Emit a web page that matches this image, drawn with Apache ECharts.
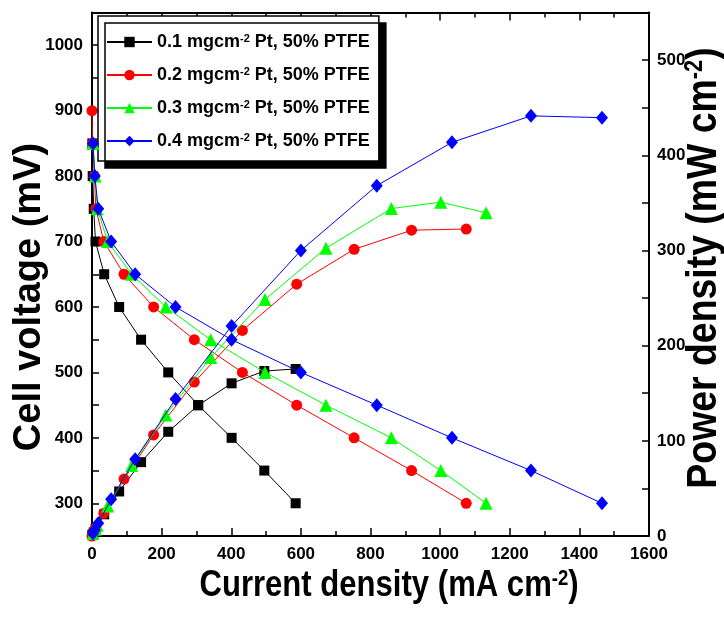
<!DOCTYPE html>
<html>
<head>
<meta charset="utf-8">
<script src="https://cdn.jsdelivr.net/npm/echarts@6/dist/echarts.min.js"></script>
<style>
  html, body { margin: 0; padding: 0; background: #ffffff; }
  #chart { width: 724px; height: 617px; }
</style>
</head>
<body>
<div id="chart"></div>
<script>
// Pt loadings of the four cathodes (mg cm-2)
const loadings = ['0.1', '0.2', '0.3', '0.4'];

// Polarisation data: current density (mA cm-2), cell voltage (mV), power density (mW cm-2)
const current01 = [1, 2, 5, 10, 35, 78, 141, 219, 305, 401, 495, 585];
const voltage01 = [850, 800, 750, 700, 650, 600, 550, 500, 450, 400, 350, 300];
const power01   = [0.9, 1.6, 3.8, 7.0, 22.8, 46.8, 77.6, 109.5, 137.3, 160.4, 173.3, 175.5];

const current02 = [0, 2, 7, 11, 34, 92, 177, 294, 432, 588, 753, 918, 1075];
const voltage02 = [900, 850, 800, 750, 700, 650, 600, 550, 500, 450, 400, 350, 300];
const power02   = [0, 1.7, 5.6, 8.3, 23.8, 59.8, 106.2, 161.7, 216.0, 264.6, 301.2, 321.3, 322.5];

const current03 = [3, 9, 15, 45, 114, 212, 341, 497, 672, 860, 1002, 1132];
const voltage03 = [850, 800, 750, 700, 650, 600, 550, 500, 450, 400, 350, 300];
const power03   = [2.6, 7.2, 11.3, 31.5, 74.1, 127.2, 187.6, 248.5, 302.4, 344.0, 350.7, 339.6];

const current04 = [3, 8, 18, 55, 124, 240, 401, 600, 818, 1034, 1261, 1465];
const voltage04 = [850, 800, 750, 700, 650, 600, 550, 500, 450, 400, 350, 300];
const power04   = [2.6, 6.4, 13.5, 38.5, 80.6, 144.0, 220.6, 300.0, 368.1, 413.6, 441.4, 439.5];

// Axis tick values
const currentTicks = [0, 200, 400, 600, 800, 1000, 1200, 1400, 1600];
const voltageTicks = [300, 400, 500, 600, 700, 800, 900, 1000];
const powerTicks   = [0, 100, 200, 300, 400, 500];

const currents = [current01, current02, current03, current04];
const voltages = [voltage01, voltage02, voltage03, voltage04];
const powers   = [power01, power02, power03, power04];

const colors  = ['#000000', '#ff0000', '#00ff00', '#0000ff'];
const symbols = ['rect', 'circle', 'triangle', 'diamond'];
const sizes   = [10, 11, 13, [12, 14]];

const FONT = "'Liberation Sans', Arial, sans-serif";

const seriesName = l => l + ' mgcm-2 Pt, 50% PTFE';
const pairs = (xs, ys) => xs.map((x, i) => [x, ys[i]]);

const series = [];
loadings.forEach((l, k) => {
  const common = {
    name: seriesName(l),
    type: 'line',
    xAxisIndex: 0,
    symbol: symbols[k],
    symbolSize: sizes[k],
    showAllSymbol: true,
    color: colors[k],
    lineStyle: { width: 1, color: colors[k] },
    itemStyle: { color: colors[k] },
    emphasis: { disabled: true },
    animation: false,
    z: 2 + k
  };
  series.push(Object.assign({}, common, { yAxisIndex: 0, data: pairs(currents[k], voltages[k]) }));
  series.push(Object.assign({}, common, { yAxisIndex: 1, data: pairs(currents[k], powers[k]) }));
});

const tickLabel = { fontFamily: FONT, fontWeight: 'bold', fontSize: 17, color: '#000' };
const axisLine = { show: true, onZero: false, lineStyle: { color: '#000', width: 2 } };
const innerTick = len => ({ show: true, inside: true, length: len, lineStyle: { color: '#000', width: 1.5 } });

// Axis titles (condensed bold lettering, superscript exponent)
const titleRich = (size, supSize) => ({
  t: { fontFamily: FONT, fontWeight: 'bold', fontSize: size, fill: '#000', color: '#000' },
  s: { fontFamily: FONT, fontWeight: 'bold', fontSize: supSize, fill: '#000', color: '#000', verticalAlign: 'top' }
});

const chart = echarts.init(document.getElementById('chart'), null, { renderer: 'canvas' });
chart.setOption({
  animation: false,
  backgroundColor: '#ffffff',
  grid: { left: 92, right: 75, top: 12.5, bottom: 81, containLabel: false, outerBoundsMode: 'none' },
  legend: {
    data: loadings.map(seriesName),
    orient: 'vertical',
    left: 98, top: 16,
    padding: [17, 9, 11, 8],
    itemGap: 15,
    itemWidth: 45,
    itemHeight: 13,
    backgroundColor: '#ffffff',
    borderColor: '#000', borderWidth: 1.5, borderRadius: 0,
    shadowColor: '#000', shadowBlur: 0, shadowOffsetX: 7, shadowOffsetY: 7,
    selectedMode: false,
    formatter: name => {
      const l = name.split(' ')[0];
      return '{t|' + l + ' mgcm}{s|-2}{t| Pt, 50% PTFE}';
    },
    textStyle: {
      rich: {
        t: { fontFamily: FONT, fontWeight: 'bold', fontSize: 18, color: '#000' },
        s: { fontFamily: FONT, fontWeight: 'bold', fontSize: 11, color: '#000', verticalAlign: 'top' }
      }
    }
  },
  graphic: [
    {
      type: 'text', x: 30, y: 297, rotation: Math.PI / 2, silent: true,
      style: { text: 'Cell voltage (mV)', font: 'bold 38px ' + FONT, fill: '#000',
               align: 'center', verticalAlign: 'middle', textAlign: 'center', textVerticalAlign: 'middle' }
    },
    {
      type: 'text', x: 389, y: 586, scaleX: 0.84, silent: true,
      style: { text: '{t|Current density (mA cm}{s|-2}{t|)}', rich: titleRich(37, 22), fill: '#000',
               align: 'center', verticalAlign: 'middle', textAlign: 'center', textVerticalAlign: 'middle' }
    },
    {
      type: 'text', x: 704, y: 268, rotation: Math.PI / 2, scaleX: 0.87, silent: true,
      style: { text: '{t|Power density (mW cm}{s|-2}{t|)}', rich: titleRich(43, 25), fill: '#000',
               align: 'center', verticalAlign: 'middle', textAlign: 'center', textVerticalAlign: 'middle' }
    }
  ],
  xAxis: [
    {
      type: 'value', position: 'bottom',
      min: currentTicks[0], max: currentTicks[currentTicks.length - 1], interval: 200,
      axisLine: axisLine,
      axisTick: innerTick(8),
      minorTick: { show: true, splitNumber: 2, length: 5, lineStyle: { color: '#000', width: 1.5 } },
      splitLine: { show: false },
      axisLabel: Object.assign({ margin: 10, formatter: v => currentTicks.includes(v) ? String(v) : '' }, tickLabel)
    },
    {
      type: 'value', position: 'top',
      min: currentTicks[0], max: currentTicks[currentTicks.length - 1], interval: 200,
      axisLine: axisLine,
      axisTick: innerTick(8),
      minorTick: { show: true, splitNumber: 2, length: 5, lineStyle: { color: '#000', width: 1.5 } },
      splitLine: { show: false },
      axisLabel: { show: false }
    }
  ],
  yAxis: [
    {
      type: 'value', position: 'left',
      min: 250, max: 1050, interval: 50,
      axisLine: axisLine,
      axisTick: innerTick(7),
      splitLine: { show: false },
      axisLabel: Object.assign({ margin: 9, formatter: v => voltageTicks.includes(v) ? String(v) : '' }, tickLabel)
    },
    {
      type: 'value', position: 'right',
      min: 0, max: 550, interval: 50,
      axisLine: axisLine,
      axisTick: innerTick(7),
      splitLine: { show: false },
      axisLabel: Object.assign({ margin: 8, formatter: v => powerTicks.includes(v) ? String(v) : '' }, tickLabel)
    }
  ],
  series: series
});
</script>
</body>
</html>
